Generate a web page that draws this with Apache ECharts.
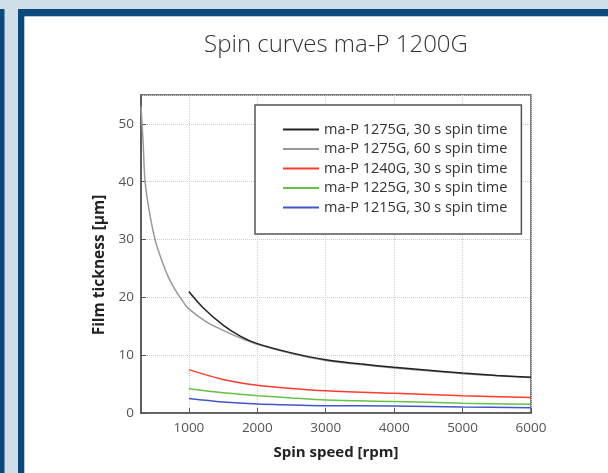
<!DOCTYPE html>
<html>
<head>
<meta charset="utf-8">
<script src="https://cdn.jsdelivr.net/npm/echarts@6/dist/echarts.min.js"></script>
<style>
html,body{margin:0;padding:0;background:#cfdfe9;}
#chart{width:608px;height:473px;}
</style>
</head>
<body>
<div id="chart"></div>
<script>
var seriesNames = [
  'ma-P 1275G, 30 s spin time',
  'ma-P 1275G, 60 s spin time',
  'ma-P 1240G, 30 s spin time',
  'ma-P 1225G, 30 s spin time',
  'ma-P 1215G, 30 s spin time'
];
var xTicks = [1000, 2000, 3000, 4000, 5000, 6000];
var s1275_30 = [[1000,21.0],[1200,18.3],[1500,15.2],[1750,13.3],[2000,12.0],[2500,10.4],[3000,9.2],[3500,8.5],[4000,7.9],[4500,7.4],[5000,6.9],[5500,6.5],[6000,6.2]];
var s1275_60 = [[300,53],[330,47],[360,40],[420,35],[505,30],[600,26.5],[700,23.5],[800,21.3],[900,19.5],[1000,18.0],[1250,15.8],[1500,14.3],[1750,13.0],[2000,11.9],[2500,10.3],[3000,9.1],[3500,8.4],[4000,7.8],[4500,7.3],[5000,6.8],[5500,6.45],[6000,6.15]];
var s1240_30 = [[1000,7.5],[1500,5.8],[2000,4.8],[2500,4.25],[3000,3.85],[4000,3.4],[5000,3.0],[6000,2.7]];
var s1225_30 = [[1000,4.2],[1500,3.5],[2000,3.0],[2500,2.6],[3000,2.25],[4000,2.0],[5000,1.7],[6000,1.5]];
var s1215_30 = [[1000,2.5],[1500,1.9],[2000,1.55],[2500,1.4],[3000,1.27],[4000,1.2],[5000,1.03],[6000,0.9]];

var colors = ['#222222','#999999','#ff3b30','#66c244','#4455cc'];
var dataSets = [s1275_30, s1275_60, s1240_30, s1225_30, s1215_30];
var FONT = 'Open Sans';

var chart = echarts.init(document.getElementById('chart'), null, {renderer:'canvas'});
var series = dataSets.map(function(d, i){
  return {
    name: seriesNames[i], type: 'line', data: d, smooth: 0.35,
    symbol: 'none', z: i === 0 ? 6 : 5 - i,
    lineStyle: {color: colors[i], width: 1.5},
    itemStyle: {color: colors[i]}
  };
});
chart.setOption({
  backgroundColor: '#cfdfe9',
  animation: false,
  graphic: [
    {type:'rect', shape:{x:0,y:9,width:4.5,height:464}, style:{fill:'#0b4a7a'}, z:-10},
    {type:'rect', shape:{x:18,y:9,width:590,height:7.5}, style:{fill:'#0b4a7a'}, z:-10},
    {type:'rect', shape:{x:18,y:9,width:6.5,height:464}, style:{fill:'#0b4a7a'}, z:-10},
    {type:'rect', shape:{x:24.5,y:16.5,width:584,height:457}, style:{fill:'#ffffff'}, z:-9},
    {type:'text', x:336, y:45, style:{text:'Spin curves ma-P 1200G', fontFamily:FONT, fontSize:24, fontWeight:300, fill:'#333', align:'center', verticalAlign:'middle'}, z:10}
  ],
  grid: {left:141, right:77, top:95, bottom:60, show:true, borderColor:'#555', borderWidth:1.5, backgroundColor:'transparent'},
  legend: {
    orient:'vertical', left:255, top:105, itemWidth:36, itemHeight:14, itemGap:4.5,
    padding:[17,14,19,27], borderColor:'#555', borderWidth:1.5, backgroundColor:'#fff',
    itemStyle:{opacity:0},
    textStyle:{fontFamily:FONT, fontSize:14.5, lineHeight:14, color:'#333'},
    data: seriesNames
  },
  xAxis: {
    type:'value', min:300, max:6000,
    name:'Spin speed [rpm]', nameLocation:'middle', nameGap:32,
    nameTextStyle:{fontFamily:FONT, fontSize:15, fontWeight:'bold', color:'#222'},
    axisLine:{show:true, lineStyle:{color:'#555', width:1.5}},
    axisTick:{show:true, inside:true, length:5, lineStyle:{color:'#555'}, customValues:xTicks},
    axisLabel:{fontFamily:FONT, fontSize:13.5, color:'#555', margin:8, customValues:xTicks,
      formatter:function(v){return String(v);}},
    splitLine:{show:true, lineStyle:{color:'#cccccc', type:'dotted', width:1}}
  },
  yAxis: {
    type:'value', min:0, max:55, interval:10,
    name:'Film tickness [µm]', nameLocation:'middle', nameGap:31,
    nameTextStyle:{fontFamily:FONT, fontSize:15.5, fontWeight:'bold', color:'#222', padding:[0,22,0,0]},
    axisLine:{show:true, lineStyle:{color:'#555', width:1.5}},
    axisTick:{show:true, inside:true, length:5, lineStyle:{color:'#555'}},
    axisLabel:{fontFamily:FONT, fontSize:13.5, color:'#555', margin:7, showMaxLabel:false},
    splitLine:{show:true, lineStyle:{color:'#cccccc', type:'dotted', width:1}}
  },
  series: series
});
</script>
</body>
</html>
